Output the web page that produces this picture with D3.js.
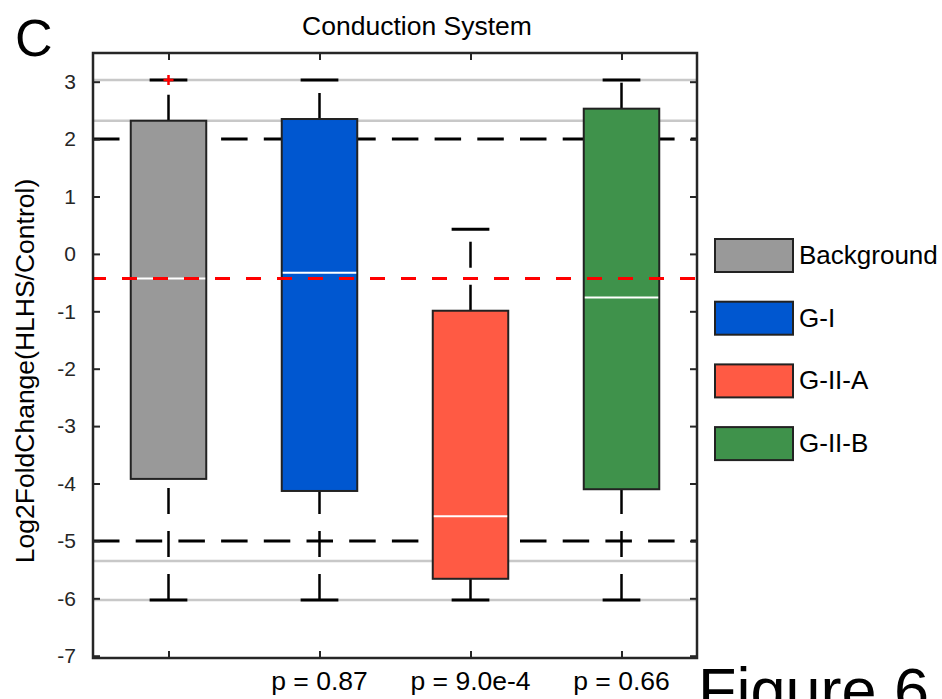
<!DOCTYPE html>
<html>
<head>
<meta charset="utf-8">
<script src="https://cdn.jsdelivr.net/npm/d3@7"></script>
<style>
    body { margin: 0; background: #fff; }
    svg { display: block; font-family: "Liberation Sans", Arial, Helvetica, sans-serif; }
</style>
</head>
<body>
<div id="chart"></div>
<script>
// data
var categories = ["Background", "G-I", "G-II-A", "G-II-B"];
var boxColors = ["#999999", "#0057D0", "#FF5A44", "#3F924B"];
var q1Values = [-3.92, -4.13, -5.66, -4.10];
var medianValues = [-0.43, -0.33, -4.57, -0.76];
var q3Values = [2.32, 2.35, -0.99, 2.53];
var whiskerLow = [-6.03, -6.03, -6.03, -6.03];
var whiskerHigh = [3.03, 3.03, 0.43, 3.03];
var outliers = [{ group: 0, value: 3.03 }];
var pValues = ["", "p = 0.87", "p = 9.0e-4", "p = 0.66"];
var yTicks = [3, 2, 1, 0, -1, -2, -3, -4, -5, -6, -7];
var grayLines = [3.03, 2.32, -5.35, -6.03];
var thresholdLines = [2, -5];
var backgroundMedian = -0.43;

(function () {
    "use strict";

    var vWidth = 942, vHeight = 699;
    var vPlot = { left: 93, right: 697, top: 53, bottom: 658 };
    var vBoxHalf = 0.25;

    var svg = d3.select("#chart").append("svg")
        .attr("width", vWidth)
        .attr("height", vHeight);

    var x = d3.scaleLinear().domain([0.5, 4.5]).range([vPlot.left, vPlot.right]);
    var y = d3.scaleLinear().domain([-7.04, 3.5]).range([vPlot.bottom, vPlot.top]);

    var vData = categories.map(function (aName, i) {
        return {
            name: aName, pos: i + 1, color: boxColors[i],
            q1: q1Values[i], median: medianValues[i], q3: q3Values[i],
            lo: whiskerLow[i], hi: whiskerHigh[i]
        };
    });

    // panel letter + title
    svg.append("text")
        .attr("x", 15).attr("y", 56)
        .style("font-size", "52px")
        .text("C");
    svg.append("text")
        .attr("x", 417).attr("y", 35)
        .attr("text-anchor", "middle")
        .style("font-size", "26.5px")
        .text("Conduction System");

    // gray reference lines
    svg.selectAll(".gray-line").data(grayLines).enter().append("line")
        .attr("x1", vPlot.left).attr("x2", vPlot.right)
        .attr("y1", function (d) { return y(d); })
        .attr("y2", function (d) { return y(d); })
        .attr("stroke", "#c8c8c8")
        .attr("stroke-width", 2.5);

    // black dashed thresholds
    svg.selectAll(".thr-line").data(thresholdLines).enter().append("line")
        .attr("x1", vPlot.left).attr("x2", vPlot.right)
        .attr("y1", function (d) { return y(d); })
        .attr("y2", function (d) { return y(d); })
        .attr("stroke", "#000")
        .attr("stroke-width", 3)
        .attr("stroke-dasharray", "26.5,16.2");

    var g = svg.selectAll(".box").data(vData).enter().append("g");

    // whiskers (dashed)
    g.append("line")
        .attr("x1", function (d) { return x(d.pos); })
        .attr("x2", function (d) { return x(d.pos); })
        .attr("y1", function (d) { return y(d.q3); })
        .attr("y2", function (d) { return y(d.hi); })
        .attr("stroke", "#000").attr("stroke-width", 2.5)
        .attr("stroke-dasharray", "26,17");
    g.append("line")
        .attr("x1", function (d) { return x(d.pos); })
        .attr("x2", function (d) { return x(d.pos); })
        .attr("y1", function (d) { return y(d.lo); })
        .attr("y2", function (d) { return y(d.q1); })
        .attr("stroke", "#000").attr("stroke-width", 2.5)
        .attr("stroke-dasharray", "26,17");

    // caps
    ["lo", "hi"].forEach(function (aKey) {
        g.append("line")
            .attr("x1", function (d) { return x(d.pos - vBoxHalf / 2); })
            .attr("x2", function (d) { return x(d.pos + vBoxHalf / 2); })
            .attr("y1", function (d) { return y(d[aKey]); })
            .attr("y2", function (d) { return y(d[aKey]); })
            .attr("stroke", "#000").attr("stroke-width", 3);
    });

    // boxes
    g.append("rect")
        .attr("x", function (d) { return x(d.pos - vBoxHalf); })
        .attr("width", function (d) { return x(d.pos + vBoxHalf) - x(d.pos - vBoxHalf); })
        .attr("y", function (d) { return y(d.q3); })
        .attr("height", function (d) { return y(d.q1) - y(d.q3); })
        .attr("fill", function (d) { return d.color; })
        .attr("stroke", "#222").attr("stroke-width", 2);

    // medians
    g.append("line")
        .attr("x1", function (d) { return x(d.pos - vBoxHalf) + 1; })
        .attr("x2", function (d) { return x(d.pos + vBoxHalf) - 1; })
        .attr("y1", function (d) { return y(d.median); })
        .attr("y2", function (d) { return y(d.median); })
        .attr("stroke", "#fff").attr("stroke-width", 2);

    // background median, red dashed
    svg.append("line")
        .attr("x1", vPlot.left).attr("x2", vPlot.right)
        .attr("y1", y(backgroundMedian)).attr("y2", y(backgroundMedian))
        .attr("stroke", "#ff0000").attr("stroke-width", 3)
        .attr("stroke-dasharray", "15,16")
        .attr("stroke-dashoffset", 2);

    // outliers
    var vPlus = svg.selectAll(".outlier").data(outliers).enter().append("g")
        .attr("transform", function (d) {
            return "translate(" + x(d.group + 1) + "," + y(d.value) + ")";
        });
    vPlus.append("path")
        .attr("d", "M-5,0H5M0,-5V5")
        .attr("stroke", "#ff0000").attr("stroke-width", 2.5);

    // axes, ticks pointing inward
    var vAxisColor = "#262626";
    var vLeft = svg.append("g")
        .attr("transform", "translate(" + vPlot.left + ",0)")
        .call(d3.axisLeft(y).tickValues(yTicks).tickSizeInner(-7).tickSizeOuter(0).tickPadding(17)
            .tickFormat(function (d) { return String(d); }));
    var vRight = svg.append("g")
        .attr("transform", "translate(" + vPlot.right + ",0)")
        .call(d3.axisRight(y).tickValues(yTicks).tickSizeInner(-7).tickSizeOuter(0).tickFormat(""));
    var vTop = svg.append("g")
        .attr("transform", "translate(0," + vPlot.top + ")")
        .call(d3.axisTop(x).tickValues([1, 2, 3, 4]).tickSizeInner(-7).tickSizeOuter(0).tickFormat(""));
    var vBottom = svg.append("g")
        .attr("transform", "translate(0," + vPlot.bottom + ")")
        .call(d3.axisBottom(x).tickValues([1, 2, 3, 4]).tickSizeInner(-7).tickSizeOuter(0).tickFormat(""));

    [vLeft, vRight, vTop, vBottom].forEach(function (aAxis) {
        aAxis.select(".domain").remove();
        aAxis.selectAll("line").attr("stroke", vAxisColor).attr("stroke-width", 2);
    });
    vLeft.selectAll("text")
        .attr("fill", vAxisColor)
        .style("font-family", "Liberation Sans, Arial, sans-serif")
        .style("font-size", "21px");

    svg.append("rect")
        .attr("x", vPlot.left).attr("y", vPlot.top)
        .attr("width", vPlot.right - vPlot.left)
        .attr("height", vPlot.bottom - vPlot.top)
        .attr("fill", "none")
        .attr("stroke", vAxisColor).attr("stroke-width", 2.5);

    // p values under the boxes
    svg.selectAll(".pval").data(pValues).enter().append("text")
        .attr("x", function (d, i) { return x(i + 1); })
        .attr("y", 690)
        .attr("text-anchor", "middle")
        .style("font-size", "26.5px")
        .text(function (d) { return d; });

    // y label
    svg.append("text")
        .attr("transform", "translate(34,371) rotate(-90)")
        .attr("text-anchor", "middle")
        .style("font-size", "26.5px")
        .text("Log2FoldChange(HLHS/Control)");

    // legend
    var vLegend = svg.selectAll(".legend").data(vData).enter().append("g")
        .attr("transform", function (d, i) {
            return "translate(715," + (239 + i * 62.7) + ")";
        });
    vLegend.append("rect")
        .attr("width", 78).attr("height", 33)
        .attr("fill", function (d) { return d.color; })
        .attr("stroke", "#222").attr("stroke-width", 2);
    vLegend.append("text")
        .attr("x", 84).attr("y", 25)
        .style("font-size", "26px")
        .text(function (d) { return d.name; });

    // figure caption, cut by the page edge
    svg.append("text")
        .attr("x", 698).attr("y", 712)
        .style("font-size", "63px")
        .text("Figure 6");
})();
</script>
</body>
</html>
